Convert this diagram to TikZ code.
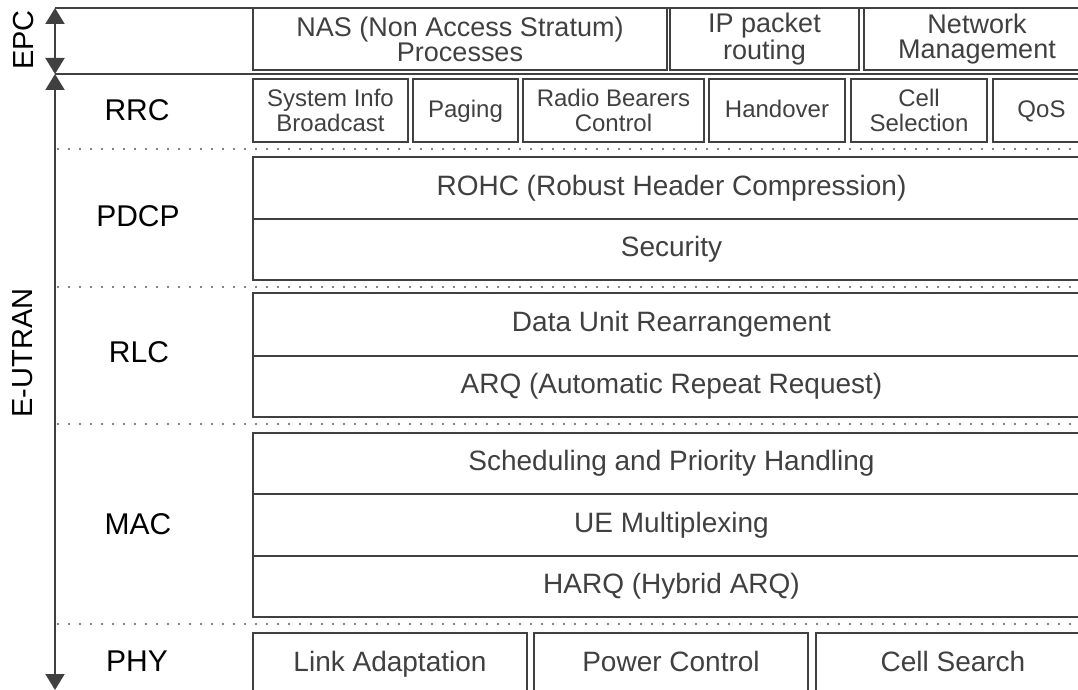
\documentclass[tikz,border=0pt]{standalone}
\usepackage{fontspec}
\setmainfont{Liberation Sans}
\usetikzlibrary{arrows.meta}

\tikzset{
  frame/.style={line width=1pt, color=black!75},
  dotline/.style={line width=1.1pt, color=black!65, line cap=round, dash pattern=on 0pt off 5.5pt},
  arrboth/.style={frame, {Triangle[length=8pt,width=9.5pt]}-{Triangle[length=8pt,width=9.5pt]}},
  lbl/.style={font=\fontsize{15}{15}\selectfont, text height=0.72em, text depth=0pt},
  sidelbl/.style={font=\fontsize{14.5}{15}\selectfont, rotate=90},
  txt/.style={font=\fontsize{14}{14}\selectfont, text height=0.72em, text depth=0pt},
  small/.style={font=\fontsize{12}{12.5}\selectfont, align=center},
  smallone/.style={font=\fontsize{12}{12.5}\selectfont, text height=0.72em, text depth=0pt},
  epctxt/.style={font=\fontsize{13.5}{12.5}\selectfont, align=center},
}

\begin{document}
\begin{tikzpicture}[x=0.5pt, y=-0.5pt]
  \useasboundingbox (0,0) rectangle (1078,690);
  \clip (0,0) rectangle (1078,690);

	% Frame and domain arrows
	\coordinate (top) at (55,8);
	\coordinate (epcbot) at (55,74);
	\coordinate (bottom) at (55,690);
	\draw[frame] (top) -- (1090,8);
	\draw[frame] (epcbot) -- (1090,74);
	\draw[arrboth] (top) -- (epcbot);
	\draw[arrboth] (epcbot) -- (bottom);
	\node[sidelbl] (epc) at (24,40) {EPC};
	\node[sidelbl] (eutran) at (23,353) {E-UTRAN};

	% Layer separators
	\foreach \y in {149,287,424,624}
	  \draw[dotline] (58,\y) -- (1090,\y);

	% Layer names
	\node[lbl] (rrc) at (137,113) {RRC};
	\node[lbl] (pdcp) at (138,219) {PDCP};
	\node[lbl] (rlc) at (139,355) {RLC};
	\node[lbl] (mac) at (138,527) {MAC};
	\node[lbl] (phy) at (137,664) {PHY};

	% EPC
	\draw[frame] (253,8) rectangle (667,70) node[midway, epctxt] (nas) {NAS (Non Access Stratum)\\Processes};
	\draw[frame] (670,8) rectangle (859,70) node[midway, epctxt] (iprouting) {IP packet\\routing};
	\draw[frame] (864,8) rectangle (1090,70) node[midway, epctxt] (netmgmt) {Network\\Management};

	% RRC
	\draw[frame] (253,79) rectangle (408,142) node[midway, small] (sysinfo) {System Info\\Broadcast};
	\draw[frame] (413,79) rectangle (518,142) node[midway, smallone] (paging) {Paging};
	\draw[frame] (523,79) rectangle (704,142) node[midway, small] (bearers) {Radio Bearers\\Control};
	\draw[frame] (709,79) rectangle (845,142) node[midway, smallone] (handover) {Handover};
	\draw[frame] (851,79) rectangle (987,142) node[midway, small] (cellsel) {Cell\\Selection};
	\draw[frame] (993,79) rectangle (1090,142) node[midway, smallone] (qos) {QoS};

	% PDCP
	\draw[frame] (253,157) rectangle (1090,219) node[midway, txt] (rohc) {ROHC (Robust Header Compression)};
	\draw[frame] (253,219) rectangle (1090,280) node[midway, txt] (security) {Security};

	% RLC
	\draw[frame] (253,293) rectangle (1090,356) node[midway, txt] (rearrange) {Data Unit Rearrangement};
	\draw[frame] (253,356) rectangle (1090,417) node[midway, txt] (arq) {ARQ (Automatic Repeat Request)};

	% MAC
	\draw[frame] (253,433) rectangle (1090,494) node[midway, txt] (sched) {Scheduling and Priority Handling};
	\draw[frame] (253,494) rectangle (1090,556) node[midway, txt] (uemux) {UE Multiplexing};
	\draw[frame] (253,556) rectangle (1090,617) node[midway, txt] (harq) {HARQ (Hybrid ARQ)};

	% PHY
	\draw[frame] (253,633) rectangle (527,695) node[midway, txt] (linkadapt) {Link Adaptation};
	\draw[frame] (534,633) rectangle (808,695) node[midway, txt] (powerctrl) {Power Control};
	\draw[frame] (816,633) rectangle (1090,695) node[midway, txt] (cellsearch) {Cell Search};

\end{tikzpicture}
\end{document}
